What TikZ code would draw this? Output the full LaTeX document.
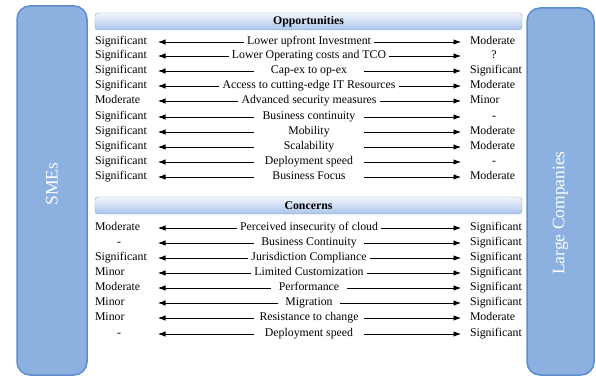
\documentclass[tikz,border=0pt]{standalone}
\usepackage{fontspec}
\setmainfont{Liberation Serif}
\usetikzlibrary{arrows.meta}

\definecolor{caixa}{HTML}{8CB0E0}
\definecolor{borda}{HTML}{5D8DD0}
\definecolor{barratopo}{HTML}{F2F6FC}
\definecolor{barrabase}{HTML}{A9C4EA}
\definecolor{barraborda}{HTML}{8FA8D0}

\begin{document}
\begin{tikzpicture}[x=1pt, y=-1pt, font=\fontsize{11.8}{14}\selectfont,
        lateral/.style={draw=borda, line width=1.5pt, fill=caixa, rounded corners=13pt, inner sep=0pt},
        barra/.style={draw=barraborda, top color=barratopo, bottom color=barrabase, rounded corners=3pt,
            minimum width=427pt, minimum height=17pt, inner sep=0pt, font=\fontsize{11.8}{14}\selectfont\bfseries},
        texto/.style={text height=1.5ex, text depth=.25ex, inner ysep=1pt},
        meio/.style={texto, inner xsep=3pt},
        rotulo/.style={texto, text width=54pt, inner xsep=0pt, outer xsep=9pt, align=left, anchor=west},
        seta/.style={->, >={Latex[length=7.5pt, width=5.5pt]}, line width=0.8pt}]
        \useasboundingbox (0,0) rectangle (596,377);

        % Caixas laterais
        \node[lateral, minimum width=70pt, minimum height=369pt] (pme) at (52,190.5) {};
        \node[rotate=90, white, font=\fontsize{17.5}{20}\selectfont] (pmetxt) at (52,184) {SMEs};
        \node[lateral, minimum width=67pt, minimum height=367pt] (grandes) at (560.5,191.5) {};
        \node[rotate=90, white, font=\fontsize{17.5}{20}\selectfont] (grandestxt) at (560.5,213) {Large Companies};

        % Barras
        \node[barra] (oport) at (308.5,21.5) {Opportunities};
        \node[barra] (preoc) at (308.5,205.5) {Concerns};

        % Linhas
        \foreach \y/\e/\m/\d/\w [count=\i] in {
                42/Significant/Lower upfront Investment/Moderate/110,
                56/Significant/Lower Operating costs and TCO/\makebox[48pt]{?}/110,
                71/Significant/Cap-ex to op-ex/Significant/110,
                86/Significant/Access to cutting-edge IT Resources/Moderate/110,
                101/Moderate/Advanced security measures/Minor/110,
                117/Significant/Business continuity/\makebox[48pt]{-}/110,
                132/Significant/Mobility/Moderate/110,
                147/Significant/Scalability/Moderate/110,
                162/Significant/Deployment speed/\makebox[48pt]{-}/110,
                177/Significant/Business Focus/Moderate/110,
                228/Moderate/Perceived insecurity of cloud/Significant/110,
                243/\makebox[48pt]{-}/Business Continuity/Significant/110,
                258/Significant/Jurisdiction Compliance/Significant/110,
                273/Minor/Limited Customization/Significant/110,
                288/Moderate/Performance/Significant/75,
                303/Minor/Migration/Significant/61,
                318/Minor/Resistance to change/Moderate/110,
                334/\makebox[48pt]{-}/Deployment speed/Significant/110} {
            \node[meio, minimum width=\w pt] (m\i) at (309,\y) {\m};
            \node[rotulo] (e\i) at (86,\y) {\e};
            \node[rotulo] (d\i) at (461,\y) {\d};
            \draw[seta] (m\i) -- (e\i);
            \draw[seta] (m\i) -- (d\i);
        }
    \end{tikzpicture}
\end{document}
